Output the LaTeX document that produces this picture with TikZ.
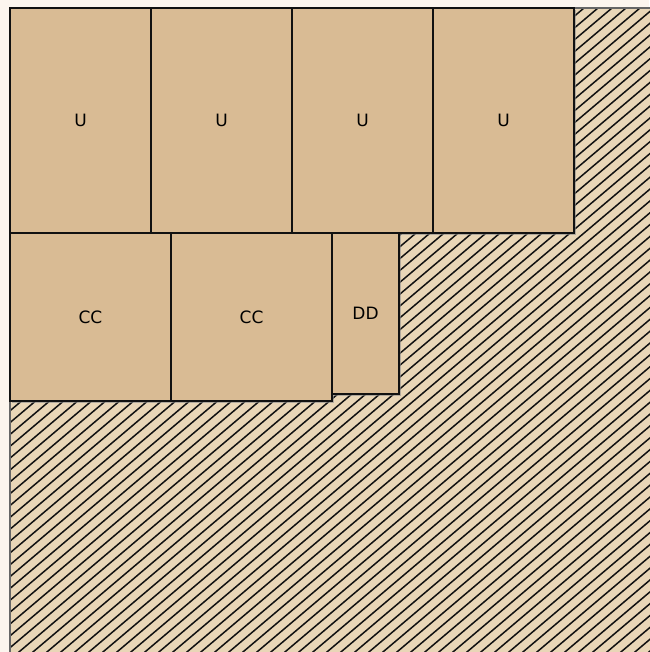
\documentclass[tikz,border=0pt]{standalone}
\usepackage{fontspec}
\setsansfont{DejaVu Sans}
\usepackage{tikz}
\usetikzlibrary{positioning,calc}
\definecolor{cPaper}{HTML}{FCF5EE}
\definecolor{cTan}{HTML}{D9BB94}
\definecolor{cHatch}{HTML}{E9D6B7}
\definecolor{cInk}{HTML}{111111}
\tikzset{
  blk/.style ={draw=cInk,fill=cTan,line width=1.2pt,anchor=north west,
               inner sep=0pt,outer sep=0pt,font=\sffamily\fontsize{17}{17}\selectfont},
  shd/.style ={fill=black!45,opacity=.6},
  hl/.style  ={cInk,line width=1.5pt},
}
\begin{document}
\begin{tikzpicture}[x=1pt,y=-1pt]
\useasboundingbox[fill=cPaper] (0,0) rectangle (649,652);
% hatched free area
\coordinate (fa) at (10,8);
\coordinate (fb) at (655,658);
\fill[cHatch] (fa) rectangle (fb);
\begin{scope}
  \clip (fa) rectangle (fb);
  \foreach \k in {0,...,105}
    \draw[hl] ($(fa)+(-780+14*\k,660)$) -- ++(780,-660);
\end{scope}
\draw[black!60,line width=1.5pt] (fb|-fa) -- (fa) -- (fa|-fb);
% shadows
\fill[shd] (12,10) rectangle (576,235);
\fill[shd] (12,235) rectangle (334,403);
\fill[shd] (334,235) rectangle (401,396);
% row of U
\node[blk,minimum width=141pt,minimum height=225pt] (u1) at (10,8) {U};
\node[blk,minimum width=141pt,minimum height=225pt,right=0pt of u1] (u2) {U};
\node[blk,minimum width=141pt,minimum height=225pt,right=0pt of u2] (u3) {U};
\node[blk,minimum width=141pt,minimum height=225pt,right=0pt of u3] (u4) {U};
% second row
\node[blk,minimum width=161pt,minimum height=168pt] (cc1) at (u1.south west) {CC};
\node[blk,minimum width=161pt,minimum height=168pt,right=0pt of cc1] (cc2) {CC};
\node[blk,minimum width=67pt,minimum height=161pt] (dd) at (cc2.north east) {DD};
\end{tikzpicture}
\end{document}
